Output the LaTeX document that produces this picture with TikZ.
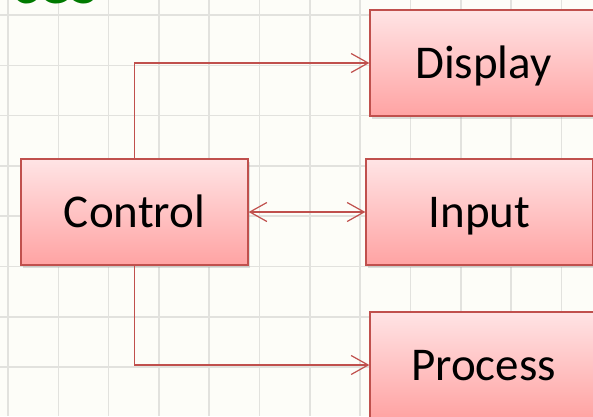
\documentclass[tikz,border=0pt]{standalone}
\usepackage{fontspec}
\setmainfont{Carlito}
\usetikzlibrary{arrows.meta,shadows}
\definecolor{bg}{HTML}{FDFDF8}
\definecolor{gridc}{HTML}{E2E2DE}
\definecolor{edge}{HTML}{C0504D}
\definecolor{topc}{HTML}{FFE4E5}
\definecolor{botc}{HTML}{FFA3A3}
\definecolor{titlegreen}{HTML}{007A00}
\tikzset{
 box/.style={draw=edge, line width=1.3pt, top color=topc, bottom color=botc,
   minimum width=227pt, minimum height=106pt, inner sep=0pt,
   text height=31pt, text depth=0pt, font=\fontsize{47}{50}\selectfont,
   drop shadow={opacity=0.25, shadow xshift=1.5pt, shadow yshift=-2.5pt}},
 tip/.tip={Straight Barb[length=17pt,width=19pt]},
 conn/.style={draw=edge, line width=1.2pt},
}
\begin{document}
\begin{tikzpicture}[x=1pt,y=-1pt]
\clip (0,0) rectangle (593,416);
\fill[bg] (0,0) rectangle (593,416);
\foreach \i in {0,...,11} { \draw[gridc, line width=1.6pt] ({8+50.3*\i},0) -- ({8+50.3*\i},416); }
\foreach \j in {0,...,8} { \draw[gridc, line width=1.6pt] (0,{15+50.3*\j}) -- (593,{15+50.3*\j}); }
\node[font=\bfseries\fontsize{66}{70}\selectfont, text=titlegreen, anchor=base west, inner sep=0pt] (title) at (11,3) {ces};
\node[box] (disp) at (483.5,63) {Display};
\node[box] (ctrl) at (134.5,212) {Control};
\node[box] (inp) at (479.5,212) {Input};
\node[box] (proc) at (483.5,365) {Process};
\draw[conn,-tip] (ctrl.north) |- (disp.west);
\draw[conn,tip-tip] (ctrl.east) -- (inp.west);
\draw[conn,-tip] (ctrl.south) |- (proc.west);
\end{tikzpicture}
\end{document}
